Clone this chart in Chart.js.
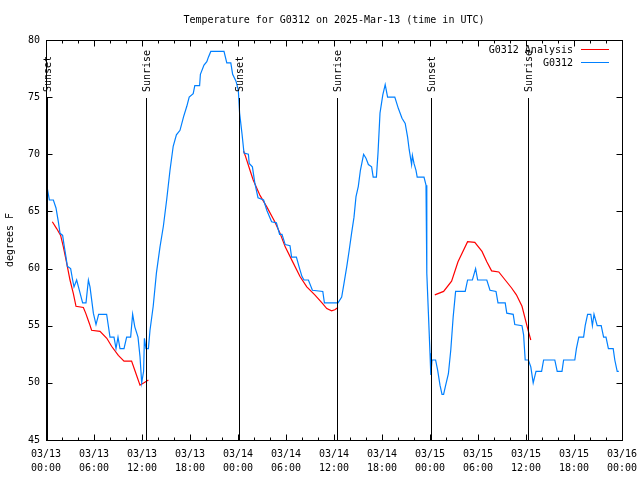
<!DOCTYPE html>
<html>
<head>
<meta charset="utf-8">
<title>Temperature for G0312</title>
<script src="https://cdn.jsdelivr.net/npm/chart.js@4.4.1/dist/chart.umd.min.js"></script>
<style>
html,body{margin:0;padding:0;background:#fff;}
canvas{display:block;}
</style>
</head>
<body>
<canvas id="main-chart" width="640" height="480"></canvas>
<script>
// hours since 03/13 00:00 UTC
const blueHours=[0.17,0.42,0.92,1.25,1.54,1.75,2.08,2.25,2.5,2.67,3.08,3.33,3.5,3.83,4.17,4.58,5.0,5.3,5.5,5.92,
  6.25,6.58,7.58,8.0,8.5,8.75,9.0,9.25,9.75,10.08,10.58,10.83,11.1,11.5,11.75,11.96,12.2,12.3,12.5,12.8,
  13.0,13.4,13.8,14.25,14.67,15.08,15.5,15.9,16.3,16.75,17.2,17.6,17.9,18.4,18.6,19.2,19.3,19.75,20.1,20.3,
  20.6,22.25,22.6,23.1,23.33,23.75,24.04,24.2,24.5,24.75,25.3,25.4,25.8,26.1,26.5,27.2,27.6,28.2,28.8,29.2,
  29.5,29.9,30.5,30.7,31.3,31.7,32.0,32.25,32.8,33.3,34.6,34.8,36.5,36.96,37.25,37.6,37.9,38.2,38.5,38.75,
  39.04,39.3,39.7,40.0,40.3,40.7,40.9,41.3,41.5,41.75,42.1,42.4,42.7,43.6,44.05,44.5,44.9,45.2,45.4,45.7,
  45.8,46.0,46.25,46.4,47.25,47.5,47.6,47.8,48.0,48.1,48.25,48.7,48.96,49.25,49.5,49.7,49.96,50.3,50.6,50.9,
  51.2,52.4,52.7,53.3,53.7,53.96,55.1,55.5,56.25,56.5,57.4,57.6,58.4,58.6,59.5,59.7,59.9,60.3,60.6,60.9,
  61.25,61.95,62.2,63.6,63.9,64.5,64.7,66.1,66.3,66.6,67.2,67.4,67.7,68.1,68.3,68.5,68.9,69.4,69.7,70.0,
  70.3,70.9,71.1,71.4,71.6];
const blueTemps=[67,66,66,65.3,64.1,63.1,62.9,62.1,61,60.2,60,59,58.4,59,58.1,57,57,59,58.4,56.1,
  55.1,56,56,54,54,53,54,53,53,54,54,56,54.9,54,52.3,50,51,53.9,53,53,
  54.6,56.7,59.6,61.9,63.7,66,68.6,70.7,71.7,72.1,73.3,74.2,75,75.3,76,76,77,77.8,78.1,78.5,
  79,79,78,78,77,76.4,75.6,73.6,71.8,70.1,70,69.2,68.9,67.5,66.2,66,65.1,64.1,64,63,
  63,62.1,62,61,61,60,59.3,59,59,58.1,58,57,57,57.5,58.7,60.2,61.6,63.1,64.5,66.3,
  67.2,68.6,70,69.65,69.1,68.9,68,68,70.1,73.6,75.2,76.1,75,75,74,73.15,72.7,71.5,70.4,69.1,
  69.9,69.2,68.6,68,68,67.3,59.6,56.1,52.6,50.7,52,52,51.1,49.8,49,49,49.8,50.8,52.9,55.8,
  58,58,59,59,60,59,59,58.1,58,57,57,56.1,56,55.1,55,54.2,52,52,51.4,50,
  51,51,52,52,51,51,52,52,53,54,54,55,56,56,55,56,55,55,54,54,
  53,53,52,51,51];
const redHours=[0.79,1.33,1.83,2.17,2.58,3.0,3.42,3.75,4.67,4.96,5.42,5.7,6.75,7.6,8.2,9.04,9.75,10.7,11.1,11.75,12.25,12.8,
  18,
  24.7,24.9,25.5,25.9,26.75,27.6,28.6,29.25,29.9,30.9,31.75,32.6,33.6,34.5,35.1,35.7,36.1,36.5,
  42,
  48.6,49.7,50.7,51.5,52.7,53.6,54.5,55.1,55.7,56.6,57.4,58.2,58.8,59.5,59.9,60.3,60.6];
const redTemps=[64.1,63.5,62.9,61.9,60.5,59,57.8,56.7,56.6,56.1,55.2,54.6,54.5,53.9,53.2,52.4,51.9,51.9,51.1,49.8,50.0,50.25,
  null,
  70.3,69.9,68.6,67.75,66.4,65.4,64.1,63.1,61.9,60.5,59.3,58.4,57.7,57.0,56.5,56.3,56.4,56.6,
  null,
  57.7,58.0,58.9,60.6,62.35,62.3,61.5,60.6,59.8,59.7,59,58.3,57.7,56.7,55.6,54.5,53.75];
const sunHours=[0.1,12.5,24.12,36.33,48.09,60.29];
const sunLabels=["Sunset","Sunrise","Sunset","Sunrise","Sunset","Sunrise"];
const xTickLabels=[["03/13","00:00"],["03/13","06:00"],["03/13","12:00"],["03/13","18:00"],
  ["03/14","00:00"],["03/14","06:00"],["03/14","12:00"],["03/14","18:00"],
  ["03/15","00:00"],["03/15","06:00"],["03/15","12:00"],["03/15","18:00"],["03/16","00:00"]];
const chartTitle="Temperature for G0312 on 2025-Mar-13 (time in UTC)";

const FONT="'DejaVu Sans Mono', 'Liberation Mono', monospace";

function toPoints(xs,ys){
    return xs.map((x,i)=>({x:x,y:ys[i]}));
}

// gnuplot style frame: border, inward ticks, sun lines, legend, title
const gnuFrame={
    id:'gnuFrame',
    afterDatasetsDraw(chart){
        const ctx=chart.ctx;
        const a=chart.chartArea;
        const xs=chart.scales.x, ys=chart.scales.y;
        ctx.save();
        ctx.strokeStyle='#000';
        ctx.fillStyle='#000';
        ctx.lineWidth=1;
        ctx.font='10px '+FONT;

        sunHours.forEach((h,i)=>{
            const px=Math.round(xs.getPixelForValue(h))+0.5;
            ctx.beginPath();
            ctx.moveTo(px,a.top+58);
            ctx.lineTo(px,a.bottom);
            ctx.stroke();
            ctx.save();
            ctx.translate(px+1,a.top+52);
            ctx.rotate(-Math.PI/2);
            ctx.textAlign='left';
            ctx.textBaseline='middle';
            ctx.fillText(sunLabels[i],0,0);
            ctx.restore();
        });

        const L=Math.round(a.left)+0.5, R=Math.round(a.right)+0.5;
        const T=Math.round(a.top)+0.5, B=Math.round(a.bottom)+0.5;
        ctx.strokeRect(L,T,R-L,B-T);

        ctx.beginPath();
        for(let h=0;h<=72;h+=2){
            const px=Math.round(xs.getPixelForValue(h))+0.5;
            const len=(h%6===0)?6:3;
            ctx.moveTo(px,B); ctx.lineTo(px,B-len);
            ctx.moveTo(px,T); ctx.lineTo(px,T+len);
        }
        ys.ticks.forEach(t=>{
            const py=Math.round(ys.getPixelForValue(t.value))+0.5;
            ctx.moveTo(L,py); ctx.lineTo(L+6,py);
            ctx.moveTo(R,py); ctx.lineTo(R-6,py);
        });
        ctx.stroke();

        // legend
        chart.data.datasets.slice().reverse().forEach((ds,i)=>{
            const y=a.top+9.5+13*i;
            ctx.textAlign='right';
            ctx.textBaseline='middle';
            ctx.fillText(ds.label,a.right-49,y+1);
            ctx.strokeStyle=ds.borderColor;
            ctx.beginPath();
            ctx.moveTo(a.right-41,y);
            ctx.lineTo(a.right-13,y);
            ctx.stroke();
        });

        ctx.fillStyle='#000';
        ctx.textAlign='center';
        ctx.textBaseline='middle';
        ctx.fillText(chartTitle,(a.left+a.right)/2,20);
        ctx.restore();
    }
};

function createChart(){
    const ctx=document.getElementById("main-chart").getContext("2d");
    const mychart=new Chart(ctx,{
        type:"line",
        data:{
            datasets:[
                {
                    label:"G0312",
                    data:toPoints(blueHours,blueTemps),
                    borderColor:"#0080ff",
                    borderWidth:1.2,
                    pointRadius:0,
                    tension:0,
                    fill:false
                },
                {
                    label:"G0312 Analysis",
                    data:toPoints(redHours,redTemps),
                    borderColor:"#ff0000",
                    borderWidth:1.2,
                    pointRadius:0,
                    tension:0,
                    spanGaps:false,
                    fill:false
                }
            ]
        },
        options:{
            responsive:false,
            animation:false,
            events:[],
            layout:{padding:{top:40,right:18,left:0,bottom:0}},
            plugins:{
                legend:{display:false},
                title:{display:false},
                tooltip:{enabled:false}
            },
            scales:{
                x:{
                    type:'linear',
                    min:0,
                    max:72,
                    grid:{display:false,drawTicks:false},
                    border:{display:false},
                    ticks:{
                        stepSize:6,
                        autoSkip:false,
                        maxRotation:0,
                        padding:7,
                        color:'#000',
                        font:{family:FONT,size:10,lineHeight:1.4},
                        callback:(v)=>xTickLabels[Math.round(v/6)]
                    },
                    afterFit:(s)=>{s.height=40;s.paddingLeft=0;s.paddingRight=0;}
                },
                y:{
                    min:45,
                    max:80,
                    grid:{display:false,drawTicks:false},
                    border:{display:false},
                    ticks:{
                        stepSize:5,
                        padding:6,
                        color:'#000',
                        font:{family:FONT,size:10}
                    },
                    title:{
                        display:true,
                        text:'degrees F',
                        color:'#000',
                        font:{family:FONT,size:10,lineHeight:1.2},
                        padding:{top:4,bottom:0}
                    },
                    afterFit:(s)=>{s.width=46;s.paddingTop=0;s.paddingBottom=0;}
                }
            }
        },
        plugins:[gnuFrame]
    });
    return mychart;
}

createChart();
</script>
</body>
</html>
